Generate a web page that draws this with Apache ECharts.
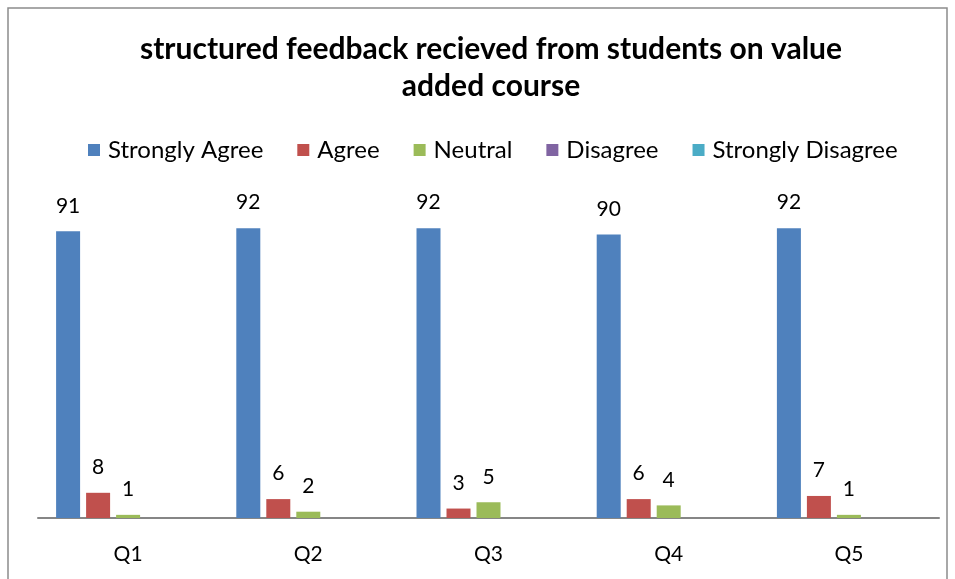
<!DOCTYPE html>
<html>
<head>
<meta charset="utf-8">
<script src="https://cdn.jsdelivr.net/npm/echarts@6/dist/echarts.min.js"></script>
<style>
html,body{margin:0;padding:0;background:#fff;}
#c{width:955px;height:579px;}
</style>
</head>
<body>
<div id="c"></div>
<script>
const categories = ['Q1', 'Q2', 'Q3', 'Q4', 'Q5'];
const stronglyAgree = [91, 92, 92, 90, 92];
const agree = [8, 6, 3, 6, 7];
const neutral = [1, 2, 5, 4, 1];
const disagree = [0, 0, 0, 0, 0];
const stronglyDisagree = [0, 0, 0, 0, 0];
const seriesNames = ['Strongly Agree', 'Agree', 'Neutral', 'Disagree', 'Strongly Disagree'];
const colors = ['#4F81BD', '#C0504D', '#9BBB59', '#8064A2', '#4BACC6'];
const seriesData = [stronglyAgree, agree, neutral, disagree, stronglyDisagree];

const FONT = 'Lato';
const chart = echarts.init(document.getElementById('c'), null, {renderer: 'canvas'});
chart.setOption({
  animation: false,
  backgroundColor: '#fff',
  color: colors,
  title: {
    text: 'structured feedback recieved from students on value\nadded course',
    left: 486,
    textAlign: 'center',
    top: 26,
    textStyle: {fontFamily: FONT, fontWeight: 'bold', fontSize: 30, lineHeight: 37, color: '#000'}
  },
  legend: {
    left: 83,
    top: 133,
    itemWidth: 12,
    itemHeight: 12,
    itemGap: 34,
    icon: 'rect',
    textStyle: {fontFamily: FONT, fontSize: 24, color: '#000', padding: [0, 0, 0, 3]},
    data: seriesNames
  },
  grid: {left: 38, right: 16, top: 203, bottom: 61, containLabel: false},
  xAxis: {
    type: 'category',
    data: categories,
    axisLine: {lineStyle: {color: '#868686', width: 2}},
    axisTick: {show: false},
    axisLabel: {fontFamily: FONT, fontSize: 21, color: '#000', margin: 26}
  },
  yAxis: {
    type: 'value', min: 0, max: 100, show: false,
    splitLine: {show: false}
  },
  series: seriesNames.map((n, i) => ({
    name: n,
    type: 'bar',
    data: seriesData[i],
    barWidth: 24,
    barGap: '25%',
    barCategoryGap: '20%',
    itemStyle: {color: colors[i]},
    label: {
      show: true, position: 'top', distance: 15,
      fontFamily: FONT, fontSize: 21, color: '#000',
      formatter: p => (p.value ? String(p.value) : '')
    }
  })),
  graphic: [{
    type: 'rect', z: -1,
    shape: {x: 8, y: 8, width: 939, height: 620},
    style: {fill: 'none', stroke: '#8c8c8c', lineWidth: 1.5}
  }]
});
</script>
</body>
</html>
